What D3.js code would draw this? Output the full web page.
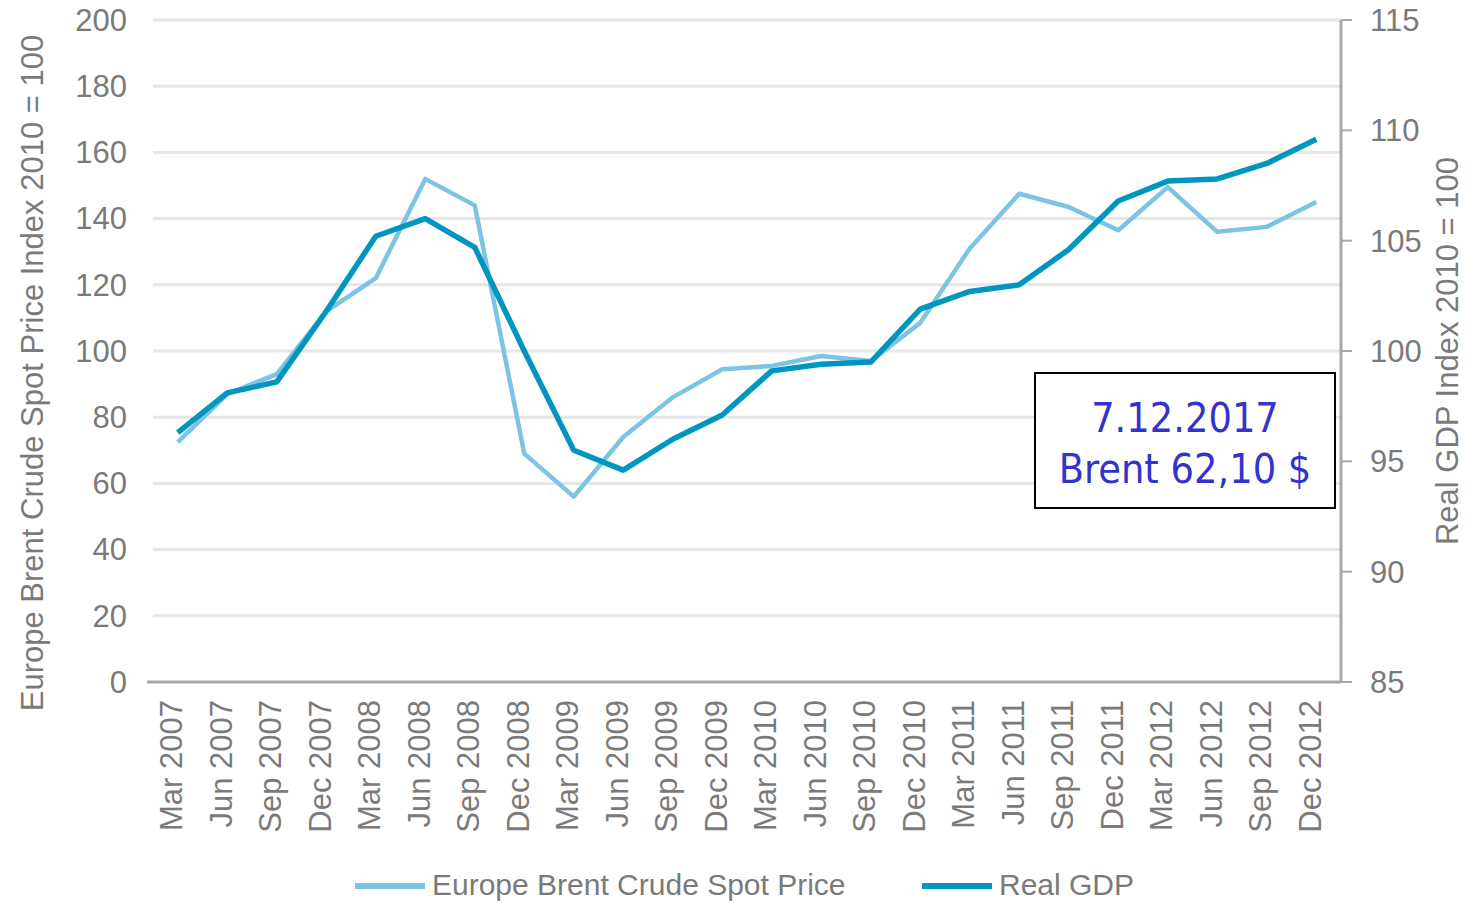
<!DOCTYPE html>
<html>
<head>
<meta charset="utf-8">
<script src="https://cdn.jsdelivr.net/npm/d3@7"></script>
<style>
  body { margin: 0; background: #fff; }
  svg text { font-family: "Liberation Sans", Arial, sans-serif; fill: #7a7a7a; }
</style>
</head>
<body>
<svg id="chart" width="1467" height="903"></svg>
<script>
// quarters on the x axis
const quarters = ["Mar 2007","Jun 2007","Sep 2007","Dec 2007","Mar 2008","Jun 2008","Sep 2008","Dec 2008",
  "Mar 2009","Jun 2009","Sep 2009","Dec 2009","Mar 2010","Jun 2010","Sep 2010","Dec 2010",
  "Mar 2011","Jun 2011","Sep 2011","Dec 2011","Mar 2012","Jun 2012","Sep 2012","Dec 2012"];

// Europe Brent Crude Spot Price Index 2010 = 100 (left axis)
const brent = [72.5, 87, 93, 112, 122, 152, 144, 69, 56, 74, 86, 94.5,
  95.5, 98.5, 97, 108.5, 131, 147.5, 143.5, 136.5, 149.5, 136, 137.5, 145];

// Real GDP Index 2010 = 100 (right axis)
const gdp = [96.3, 98.1, 98.6, 101.8, 105.2, 106.0, 104.7, 100.0, 95.5, 94.6, 96.0, 97.1,
  99.1, 99.4, 99.5, 101.9, 102.7, 103.0, 104.6, 106.8, 107.7, 107.8, 108.5, 109.6];

const leftTicks = [0, 20, 40, 60, 80, 100, 120, 140, 160, 180, 200];
const rightTicks = [85, 90, 95, 100, 105, 110, 115];

const seriesNames = ["Europe Brent Crude Spot Price", "Real GDP"];
const seriesColors = ["#7cc4e4", "#0096bf"];

const noteLines = ["7.12.2017", "Brent 62,10 $"];

const svg = d3.select("#chart");
let plot = {left: 153, right: 1341, top: 20, bottom: 682};

let x = d3.scaleBand().domain(quarters).range([plot.left, plot.right]);
let yL = d3.scaleLinear().domain([0, 200]).range([plot.bottom, plot.top]);
let yR = d3.scaleLinear().domain([85, 115]).range([plot.bottom, plot.top]);
let cx = d => x(d) + x.bandwidth() / 2;

// gridlines
svg.append("g")
  .selectAll("line")
  .data(leftTicks.filter(d => d > 0))
  .enter().append("line")
    .attr("x1", plot.left)
    .attr("x2", plot.right)
    .attr("y1", d => yL(d))
    .attr("y2", d => yL(d))
    .attr("stroke", "#e6e6e6")
    .attr("stroke-width", 3);

// left tick labels
svg.append("g")
  .selectAll("text")
  .data(leftTicks)
  .enter().append("text")
    .attr("x", 127)
    .attr("y", d => yL(d))
    .attr("dy", "0.35em")
    .attr("text-anchor", "end")
    .style("font-size", "31px")
    .text(d => d);

// x axis line
svg.append("line")
  .attr("x1", 147).attr("x2", plot.right)
  .attr("y1", plot.bottom).attr("y2", plot.bottom)
  .attr("stroke", "#a8a8a8")
  .attr("stroke-width", 3);

// right axis
let rAxis = svg.append("g");
rAxis.append("line")
  .attr("x1", plot.right).attr("x2", plot.right)
  .attr("y1", plot.top).attr("y2", plot.bottom + 1)
  .attr("stroke", "#a8a8a8")
  .attr("stroke-width", 3);
rAxis.selectAll(".rtick")
  .data(rightTicks)
  .enter().append("line")
    .attr("class", "rtick")
    .attr("x1", plot.right).attr("x2", plot.right + 11)
    .attr("y1", d => yR(d)).attr("y2", d => yR(d))
    .attr("stroke", "#a8a8a8")
    .attr("stroke-width", 2);
rAxis.selectAll("text")
  .data(rightTicks)
  .enter().append("text")
    .attr("x", 1370)
    .attr("y", d => yR(d))
    .attr("dy", "0.35em")
    .style("font-size", "31px")
    .text(d => d);

// x tick labels
svg.append("g")
  .selectAll("text")
  .data(quarters)
  .enter().append("text")
    .attr("transform", d => "translate(" + cx(d) + ",700) rotate(-90)")
    .attr("dy", "0.15em")
    .attr("text-anchor", "end")
    .style("font-size", "31px")
    .text(d => d);

// axis titles
svg.append("text")
  .attr("transform", "translate(43,373) rotate(-90)")
  .attr("text-anchor", "middle")
  .style("font-size", "31px")
  .text("Europe Brent Crude Spot Price Index 2010 = 100");
svg.append("text")
  .attr("transform", "translate(1458,351) rotate(-90)")
  .attr("text-anchor", "middle")
  .style("font-size", "31px")
  .text("Real GDP Index 2010 = 100");

// lines
let brentLine = d3.line()
  .x((d, i) => cx(quarters[i]))
  .y(d => yL(d));
let gdpLine = d3.line()
  .x((d, i) => cx(quarters[i]))
  .y(d => yR(d));

svg.append("path")
  .datum(brent)
  .attr("d", brentLine)
  .attr("fill", "none")
  .attr("stroke", seriesColors[0])
  .attr("stroke-width", 4.5)
  .attr("stroke-linejoin", "round");
svg.append("path")
  .datum(gdp)
  .attr("d", gdpLine)
  .attr("fill", "none")
  .attr("stroke", seriesColors[1])
  .attr("stroke-width", 5.5)
  .attr("stroke-linejoin", "round");

// legend
let legendX = [355, 922];
let legend = svg.append("g")
  .selectAll("g")
  .data(seriesNames)
  .enter().append("g")
    .attr("transform", (d, i) => "translate(" + legendX[i] + ",886)");
legend.append("line")
  .attr("x1", 0).attr("x2", 70)
  .attr("stroke", (d, i) => seriesColors[i])
  .attr("stroke-width", 6);
legend.append("text")
  .attr("x", 77)
  .attr("y", 9)
  .style("font-size", "30px")
  .text(d => d);

// note box
let note = svg.append("g").attr("transform", "translate(1035,373)");
note.append("rect")
  .attr("width", 300).attr("height", 135)
  .attr("fill", "#fff")
  .attr("stroke", "#000")
  .attr("stroke-width", 2);
note.selectAll("text")
  .data(noteLines)
  .enter().append("text")
    .attr("x", 150)
    .attr("y", (d, i) => 59 + i * 51)
    .attr("text-anchor", "middle")
    .style("font-family", "'DejaVu Sans Condensed', 'DejaVu Sans', sans-serif")
    .style("font-stretch", "condensed")
    .style("font-size", "41px")
    .style("fill", "#3333cc")
    .text(d => d);
</script>
</body>
</html>
